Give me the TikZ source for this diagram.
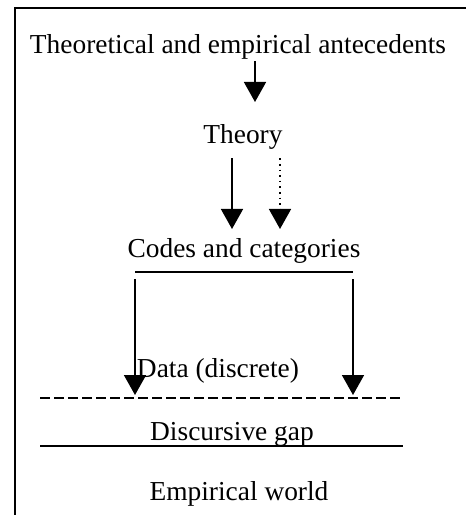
\documentclass[tikz,border=0pt]{standalone}
\usepackage{fontspec}
\setmainfont{Liberation Serif}
\usepackage{tikz}
\usetikzlibrary{positioning}
\usetikzlibrary {arrows.meta}

\tikzset{
 lbl/.style={inner sep=0pt,anchor=base,font=\fontsize{13.7}{16}\selectfont},
 bigarrow/.style={line width=0.8pt,-{Triangle[length=10pt,width=11pt]}},
 rule/.style={line width=0.7pt}
}

\begin{document}
\begin{tikzpicture}[x=0.5pt,y=-0.5pt]
 \useasboundingbox (0,0) rectangle (466,515);
 \draw[line width=1pt](466,8)--(15,8)--(15,515);
 \node[lbl] (antecedents) at (238,53) {Theoretical and empirical antecedents};
 \node[lbl] (theory) at (243,143) {Theory};
 \node[lbl] (codes) at (244,257) {Codes and categories};
 \node[lbl] (data) at (218,377) {Data (discrete)};
 \node[lbl] (gap) at (232,440) {Discursive gap};
 \node[lbl] (world) at (239,500) {Empirical world};
 \coordinate (a1) at (255,0);
 \coordinate (a2) at (232,0);
 \coordinate (a3) at (280,0);
 \coordinate (rl) at (135,272);
 \coordinate (rr) at (353,272);
 \coordinate (dl) at (40,398);
 \coordinate (dr) at (403,398);
 \coordinate (sl) at (40,446);
 \coordinate (sr) at (403,446);
 \draw[bigarrow,shorten <=1pt,shorten >=10.8pt](antecedents.south -| a1)--(theory.north -| a1);
 \draw[bigarrow,shorten <=4.5pt,shorten >=4.3pt](theory.south -| a2)--(codes.north -| a2);
 \draw[bigarrow,dotted,shorten <=4.5pt,shorten >=4.3pt](theory.south -| a3)--(codes.north -| a3);
 \draw[rule](rl)--(rr);
 \draw[bigarrow,shorten <=3.5pt,shorten >=1.5pt](rl)--(rl |- dl);
 \draw[bigarrow,shorten <=3.5pt,shorten >=1.5pt](rr)--(rr |- dl);
 \draw[rule,dash pattern=on 5pt off 2pt](dl)--(dr);
 \draw[rule](sl)--(sr);
\end{tikzpicture}
\end{document}
